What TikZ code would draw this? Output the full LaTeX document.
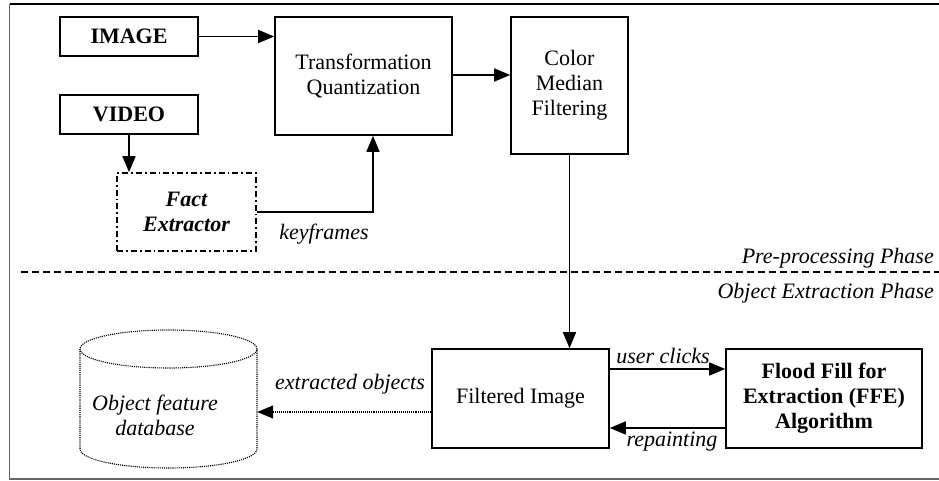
\documentclass[tikz,border=0pt]{standalone}
\usepackage{fontspec}
\setmainfont{Liberation Serif}
\usetikzlibrary{arrows.meta}
\newcommand{\fsz}{\fontsize{22}{25}\selectfont}
\tikzset{
  box/.style={draw,line width=1.6pt,inner sep=0pt,align=center,font=\fsz},
  lbl/.style={font=\fsz\itshape,inner sep=0pt},
  arr/.style={line width=1.5pt,-{Triangle[length=16pt,width=13pt]}},
  dbline/.style={line width=1.1pt,densely dotted},
}
\begin{document}
\begin{tikzpicture}[x=1pt,y=-1pt]
\useasboundingbox (0,0) rectangle (939,481);
% frame
\draw[line width=1.5pt] (9.5,4) -- (939,4);
\draw[line width=1.6pt,black!60] (9.5,4) -- (9.5,479) -- (939,479);
% nodes
\node[box,minimum width=138pt,minimum height=39pt,font=\fsz\bfseries] (img) at (129,36.5) {IMAGE};
\node[box,minimum width=138pt,minimum height=39pt,font=\fsz\bfseries] (vid) at (129,114.5) {VIDEO};
\node[box,minimum width=177pt,minimum height=118pt] (tq) at (363.5,76) {Transformation\\Quantization};
\node[box,minimum width=117pt,minimum height=137pt] (cmf) at (569.5,85.5) {Color\\Median\\Filtering};
\node[box,dash pattern=on 6pt off 3pt on 1.8pt off 3pt,minimum width=139pt,minimum height=78pt,font=\fsz\bfseries\itshape] (fe) at (186.5,212) {Fact\\Extractor};
\node[box,minimum width=177pt,minimum height=99pt] (fi) at (520.5,398.5) {Filtered Image};
\node[box,minimum width=196pt,minimum height=99pt,font=\fsz\bfseries] (ffe) at (824,398.5) {Flood Fill for\\Extraction (FFE)\\Algorithm};
% cylinder (database)
\draw[dbline] (168.5,349) ellipse [x radius=88.5pt, y radius=19pt];
\draw[dbline] (80,349) -- (80,449) arc[start angle=180,end angle=360,x radius=88.5pt,y radius=19pt] -- (257,349);
\node[inner sep=0pt,minimum width=177pt,minimum height=100pt] (db) at (168.5,412) {};
\node[lbl,align=center] (dbt) at (155,415.5) {Object feature\\database};
% connectors
\draw[arr] (img.east) -- (tq.west |- img.east);
\draw[arr] (tq.east |- 0,75) -- (cmf.west |- 0,75);
\draw[arr] (vid.south) -- (fe.north -| vid.south);
\coordinate (kk) at (373,212);
\draw[arr] (fe.east |- kk) -- (kk) -- (tq.south -| kk);
\draw[arr] (cmf.south) -- (fi.north -| cmf.south);
\draw[arr] (fi.east |- 0,369) -- (ffe.west |- 0,369);
\draw[arr] (ffe.west |- 0,428) -- (fi.east |- 0,428);
\draw[dbline,-{Triangle[length=16pt,width=13pt]}] (fi.west |- 0,412) -- (db.east |- 0,412);
% labels
\node[lbl] (kf) at (324,234) {keyframes};
\node[lbl] (uc) at (663,356) {user clicks};
\node[lbl] (rp) at (672,442) {repainting};
\node[lbl] (eo) at (350,384) {extracted objects};
% phase line
\coordinate (dl) at (21,272);
\coordinate (dr) at (939,272);
\draw[line width=1.3pt,dash pattern=on 7pt off 4pt] (dl) -- (dr);
\node[lbl,anchor=east] (pp) at (934,258) {Pre-processing Phase};
\node[lbl,anchor=east] (oe) at (934,293) {Object Extraction Phase};
\end{tikzpicture}
\end{document}
